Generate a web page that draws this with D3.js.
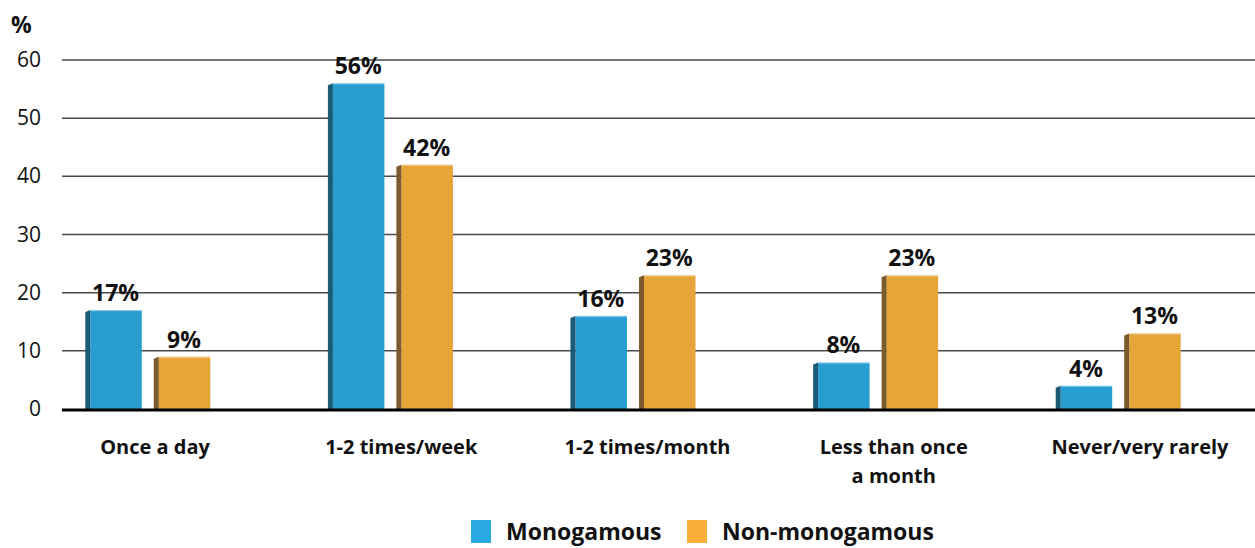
<!DOCTYPE html>
<html>
<head>
<meta charset="utf-8">
<script src="https://cdn.jsdelivr.net/npm/d3@7"></script>
<style>
  body { margin: 0; background: #fff; }
  text { font-family: "Open Sans", "Noto Sans", sans-serif; }
</style>
</head>
<body>
<div id="chart"></div>
<script>
// Data
const categories = ["Once a day", "1-2 times/week", "1-2 times/month", "Less than once a month", "Never/very rarely"];
const categoryLines = [["Once a day"], ["1-2 times/week"], ["1-2 times/month"], ["Less than once", "a month"], ["Never/very rarely"]];
const seriesNames = ["Monogamous", "Non-monogamous"];
const monogamous = [17, 56, 16, 8, 4];
const nonMonogamous = [9, 42, 23, 23, 13];
const yTicks = [0, 10, 20, 30, 40, 50, 60];

const width = 1255, height = 548;
const svg = d3.select("#chart").append("svg")
  .attr("width", width)
  .attr("height", height);

const x = d3.scaleBand().domain(categories).range([27, 1240]);
const xs = d3.scaleBand().domain(seriesNames).range([-63, 62]).paddingInner(0.175);
const y = d3.scaleLinear().domain([0, 60]).range([409, 60]);
// category labels sit on a slightly wider spread than the bar groups
const xLabel = d3.scalePoint().domain(categories).range([155, 1140]);

const faceColors = ["#279dd0", "#e5a539"];
const sideColors = ["#1c5b78", "#7c5a2b"];
const legendColors = ["#29a9e1", "#fbae3a"];

// gridlines
svg.append("g")
  .selectAll("line")
  .data(yTicks.filter(d => d > 0))
  .enter().append("line")
  .attr("x1", 62).attr("x2", width)
  .attr("y1", d => y(d)).attr("y2", d => y(d))
  .attr("stroke", "#4a4a4a")
  .attr("stroke-width", 1.5);

// y tick labels
svg.append("g")
  .selectAll("text")
  .data(yTicks)
  .enter().append("text")
  .attr("x", 41)
  .attr("y", d => y(d) + 7)
  .attr("text-anchor", "end")
  .attr("font-size", 21)
  .attr("fill", "#111")
  .text(d => d);

svg.append("text")
  .attr("x", 11).attr("y", 33)
  .attr("font-size", 23)
  .attr("font-weight", "bold")
  .attr("fill", "#111")
  .text("%");

// bars
const rows = categories.map((c, i) => ({ cat: c, values: [monogamous[i], nonMonogamous[i]] }));
const side = 5;

const groups = svg.selectAll(".group")
  .data(rows)
  .enter().append("g")
  .attr("transform", d => `translate(${x(d.cat) + x.bandwidth() / 2},0)`);

const bars = groups.selectAll(".bar")
  .data(d => d.values.map((v, j) => ({ series: seriesNames[j], j: j, value: v })))
  .enter().append("g");

bars.append("rect")
  .attr("x", d => xs(d.series) + side)
  .attr("y", d => y(d.value))
  .attr("width", xs.bandwidth() - side)
  .attr("height", d => y(0) - y(d.value))
  .attr("fill", d => faceColors[d.j]);

bars.append("path")
  .attr("d", d => {
    const x0 = xs(d.series), yt = y(d.value), yb = y(0);
    return `M${x0},${yt + 2}L${x0 + side},${yt}L${x0 + side},${yb}L${x0},${yb}Z`;
  })
  .attr("fill", d => sideColors[d.j]);

bars.append("line")
  .attr("x1", d => xs(d.series) + side)
  .attr("x2", d => xs(d.series) + xs.bandwidth())
  .attr("y1", d => y(d.value) + 0.5)
  .attr("y2", d => y(d.value) + 0.5)
  .attr("stroke", "#ffffff")
  .attr("stroke-opacity", 0.35)
  .attr("stroke-width", 1.5);

bars.append("text")
  .attr("x", d => xs(d.series) + xs.bandwidth() / 2 + 2)
  .attr("y", d => y(d.value) - 9)
  .attr("text-anchor", "middle")
  .attr("font-size", 23)
  .attr("font-weight", "bold")
  .attr("fill", "#111")
  .text(d => `${d.value}%`);

// baseline
svg.append("line")
  .attr("x1", 62).attr("x2", width)
  .attr("y1", y(0) + 1).attr("y2", y(0) + 1)
  .attr("stroke", "#000")
  .attr("stroke-width", 3);

// category labels
const catLabels = svg.append("g")
  .selectAll("text")
  .data(categories)
  .enter().append("text")
  .attr("x", d => xLabel(d))
  .attr("y", 454)
  .attr("text-anchor", "middle")
  .attr("font-size", 20)
  .attr("font-weight", "bold")
  .attr("fill", "#111");

catLabels.selectAll("tspan")
  .data((d, i) => categoryLines[i])
  .enter().append("tspan")
  .attr("x", function() { return d3.select(this.parentNode).attr("x"); })
  .attr("dy", (d, i) => i === 0 ? 0 : 29)
  .text(d => d);

// legend
const legendX = [471, 687];
const legend = svg.selectAll(".legend")
  .data(seriesNames)
  .enter().append("g")
  .attr("transform", (d, i) => `translate(${legendX[i]},520)`);

legend.append("rect")
  .attr("width", 20).attr("height", 23)
  .attr("fill", (d, i) => legendColors[i]);

legend.append("text")
  .attr("x", 35).attr("y", 20)
  .attr("font-size", 23)
  .attr("font-weight", "bold")
  .attr("fill", "#111")
  .text(d => d);
</script>
</body>
</html>
